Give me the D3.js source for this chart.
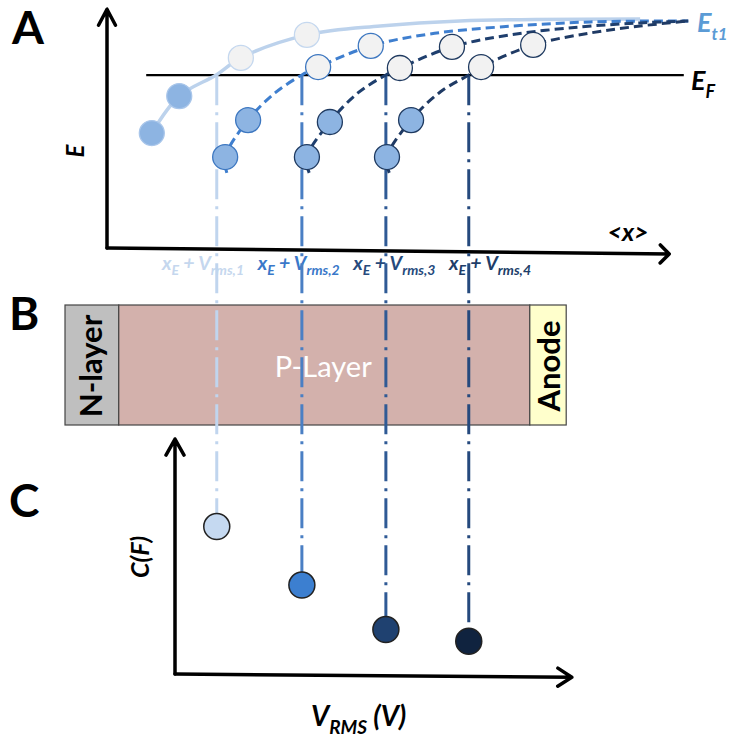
<!DOCTYPE html>
<html>
<head>
<meta charset="utf-8">
<script src="https://cdn.jsdelivr.net/npm/d3@7"></script>
<style>
body { margin: 0; background: #fff; }
text { font-family: Lato, "Open Sans", sans-serif; }
</style>
</head>
<body>
<svg id="fig" width="732" height="740"></svg>
<script>
// trap level curves in panel A, [position, energy] in plot units (0-100)
const curve1 = [[8.0, 47.9], [12.9, 63.3], [19.5, 72.1], [23.9, 79.2], [35.7, 88.8], [48.8, 92.5], [63.0, 94.6], [95.2, 95.4]];
const curve2 = [[21.4, 31.3], [21.1, 37.9], [25.2, 53.3], [30.0, 64.6], [34.8, 72.1], [37.7, 75.4], [47.1, 84.2], [57.7, 89.2], [70.2, 92.1], [86.3, 94.2], [103.8, 94.6]];
const curve3 = [[36.1, 31.3], [35.7, 37.9], [39.8, 52.5], [44.8, 64.6], [49.8, 72.1], [52.3, 75.0], [61.6, 83.8], [72.0, 88.8], [84.5, 92.1], [95.2, 93.8], [103.8, 94.6]];
const curve4 = [[50.4, 31.3], [50.0, 37.9], [54.3, 53.3], [59.5, 65.0], [64.6, 72.1], [66.8, 75.4], [76.1, 84.6], [86.3, 89.6], [95.2, 92.5], [103.8, 94.6]];
const energyCurves = [curve1, curve2, curve3, curve4];

// electrons sitting on each curve
const electrons1 = [[8.0, 47.9], [12.9, 63.3], [23.9, 79.2], [35.7, 88.8]];
const electrons2 = [[21.1, 37.9], [25.2, 53.3], [37.7, 75.4], [47.1, 84.2]];
const electrons3 = [[35.7, 37.9], [39.8, 52.5], [52.3, 75.0], [61.6, 83.8]];
const electrons4 = [[50.0, 37.9], [54.3, 53.3], [66.8, 75.4], [76.1, 84.6]];
const electrons = [electrons1, electrons2, electrons3, electrons4];

const fermiLevel = 72;
const fermiExtent = [7, 103];

// depletion edge x_E + V_rms,i and measured capacitance (panel C)
const crossings = [19.6, 34.8, 49.8, 64.6];
const capacitance = [63, 38, 19, 14];
const sweepIndex = ["1", "2", "3", "4"];

// device layers (panel B), same position units as panel A
const layerNames = ["N-layer", "P-Layer", "Anode"];
const layerEdges = [-7.5, 2.1, 75.5, 82];

// styles
const curveColor = ["#bcd2ec", "#3f7fcf", "#1f3f6e", "#1f3a64"];
const rimColor = ["#a9c6ea", "#3d77c0", "#1f3a60", "#1f3a60"];
const dropColor = ["#c0d5ee", "#4a7fc4", "#2f5a95", "#25497d"];
const labelColor = ["#c5d7ee", "#3a78c9", "#264a7c", "#203d68"];
const capFill = ["#c5d9f1", "#3c7fd0", "#1f4170", "#10233f"];
const layerFill = ["#bfbfbf", "#d3b1ac", "#ffffcc"];
const fullFill = "#8db4e2";
const emptyFill = "#f2f2f2";

const svg = d3.select("#fig");

const xA = d3.scaleLinear().domain([0, 100]).range([107, 667]);
const yA = d3.scaleLinear().domain([0, 100]).range([248, 8]);
const yC = d3.scaleLinear().domain([0, 100]).range([674, 440]);
const bandTop = 305, bandBottom = 425;
const labelX = d3.scalePoint().domain(sweepIndex).range([203, 490]);

function arrow(g, x1, y1, x2, y2, wing, back) {
    const a = Math.atan2(y2 - y1, x2 - x1);
    const bx = x2 - back * Math.cos(a), by = y2 - back * Math.sin(a);
    const nx = -Math.sin(a) * wing, ny = Math.cos(a) * wing;
    g.append("path")
        .attr("d", `M${x1},${y1}L${x2},${y2}M${bx + nx},${by + ny}L${x2},${y2}L${bx - nx},${by - ny}`)
        .attr("fill", "none")
        .attr("stroke", "#000")
        .attr("stroke-width", 3.5)
        .attr("stroke-linecap", "round")
        .attr("stroke-linejoin", "round");
}

function subText(g, x, y, parts, size, subSize, color, anchor) {
    const t = g.append("text")
        .attr("x", x)
        .attr("y", y)
        .attr("font-size", size)
        .attr("font-weight", "bold")
        .attr("font-style", "italic")
        .attr("fill", color)
        .attr("text-anchor", anchor || "start");
    let shifted = false;
    parts.forEach(p => {
        const sub = p[1] === true;
        const span = t.append("tspan").text(p[0]);
        if (sub) span.attr("font-size", subSize);
        if (sub !== shifted) {
            span.attr("dy", sub ? size * 0.28 : -size * 0.28);
            shifted = sub;
        }
    });
    return t;
}

// panel letters
[["A", 12, 44], ["B", 9, 330], ["C", 9, 517]].forEach(d => {
    svg.append("text")
        .attr("x", d[1]).attr("y", d[2])
        .attr("font-family", "'Liberation Sans', Arial, sans-serif")
        .attr("font-weight", "bold")
        .attr("font-size", 46)
        .text(d[0]);
});

// ---- panel B: device stack
const layers = svg.append("g");
layerNames.forEach((name, i) => {
    layers.append("rect")
        .attr("x", xA(layerEdges[i]))
        .attr("y", bandTop)
        .attr("width", xA(layerEdges[i + 1]) - xA(layerEdges[i]))
        .attr("height", bandBottom - bandTop)
        .attr("fill", layerFill[i])
        .attr("stroke", "#444")
        .attr("stroke-width", 1.2);
});
const midY = (bandTop + bandBottom) / 2;
[[0, 102], [2, 560]].forEach(d => {
    layers.append("text")
        .attr("transform", `translate(${d[1]},${midY + 1}) rotate(-90)`)
        .attr("text-anchor", "middle")
        .attr("font-family", "'Liberation Sans', Arial, sans-serif")
        .attr("font-weight", "bold")
        .attr("font-size", 31)
        .text(layerNames[d[0]]);
});
layers.append("text")
    .attr("x", (xA(layerEdges[1]) + xA(layerEdges[2])) / 2 - 1)
    .attr("y", midY + 12)
    .attr("text-anchor", "middle")
    .attr("font-family", "'Open Sans', sans-serif")
    .attr("font-size", 29)
    .attr("fill", "#fff")
    .text(layerNames[1]);

// ---- panel A axes and labels
const gA = svg.append("g");
arrow(gA, xA(0), yA(0), xA(0), yA(99.5), 8.5, 16);
arrow(gA, xA(0), yA(0), xA(100.4), yA(-2.5), 9, 9);

gA.append("line")
    .attr("x1", xA(fermiExtent[0])).attr("x2", xA(fermiExtent[1]))
    .attr("y1", yA(fermiLevel)).attr("y2", yA(fermiLevel))
    .attr("stroke", "#000").attr("stroke-width", 2.2);

subText(gA, 691, 90, [["E"], ["F", true]], 27, 18, "#000");
subText(gA, 697, 32, [["E"], ["t1", true]], 27, 17, "#5b9bd5");
gA.append("text")
    .attr("x", 628).attr("y", 241)
    .attr("text-anchor", "middle")
    .attr("font-size", 25).attr("font-weight", "bold").attr("font-style", "italic")
    .text("<x>");
gA.append("text")
    .attr("transform", `translate(84,151) rotate(-90)`)
    .attr("text-anchor", "middle")
    .attr("font-size", 24).attr("font-weight", "bold").attr("font-style", "italic")
    .text("E");

sweepIndex.forEach((k, i) => {
    subText(gA, labelX(k), 270, [["x"], ["E", true], [" + V"], ["rms," + k, true]], 19.5, 14, labelColor[i], "middle");
});

// ---- panel C axes and labels
const gC = svg.append("g");
arrow(gC, 175, yC(0), 175, yC(100.4), 9, 16);
arrow(gC, 175, yC(0), xA(83), yC(-1.4), 9, 14);
gC.append("text")
    .attr("transform", `translate(149,557) rotate(-90)`)
    .attr("text-anchor", "middle")
    .attr("font-size", 25).attr("font-weight", "bold").attr("font-style", "italic")
    .text("C(F)");
subText(gC, 311, 726, [["V"], ["RMS", true], [" (V)"]], 28, 19, "#000");

// ---- dash-dot drops from E_F crossing down to the capacitance points
const drops = svg.append("g");
crossings.forEach((c, i) => {
    drops.append("line")
        .attr("x1", xA(c)).attr("x2", xA(c))
        .attr("y1", yA(fermiLevel))
        .attr("y2", yC(capacitance[i]) - 13)
        .attr("stroke", dropColor[i])
        .attr("stroke-width", 3)
        .attr("stroke-dasharray", "30,7,3,7");
});

// ---- panel A curves and electrons
const line = d3.line()
    .x(d => xA(d[0]))
    .y(d => yA(d[1]))
    .curve(d3.curveCatmullRom.alpha(0.5));

energyCurves.forEach((c, i) => {
    svg.append("path")
        .datum(c)
        .attr("d", line)
        .attr("fill", "none")
        .attr("stroke", curveColor[i])
        .attr("stroke-width", i === 0 ? 3.5 : 3)
        .attr("stroke-dasharray", i === 0 ? null : "9,5");
});

electrons.forEach((set, i) => {
    svg.append("g").selectAll("circle")
        .data(set)
        .enter().append("circle")
        .attr("cx", d => xA(d[0]))
        .attr("cy", d => yA(d[1]))
        .attr("r", 12.5)
        .attr("fill", d => d[1] > fermiLevel ? emptyFill : fullFill)
        .attr("stroke", d => (i === 0 && d[1] > fermiLevel) ? "#c5d8ef" : rimColor[i])
        .attr("stroke-width", 1.3);
});

// ---- panel C capacitance points
svg.append("g").selectAll("circle")
    .data(capacitance)
    .enter().append("circle")
    .attr("cx", (d, i) => xA(crossings[i]))
    .attr("cy", d => yC(d))
    .attr("r", 13)
    .attr("fill", (d, i) => capFill[i])
    .attr("stroke", "#222")
    .attr("stroke-width", 1.5);
</script>
</body>
</html>
